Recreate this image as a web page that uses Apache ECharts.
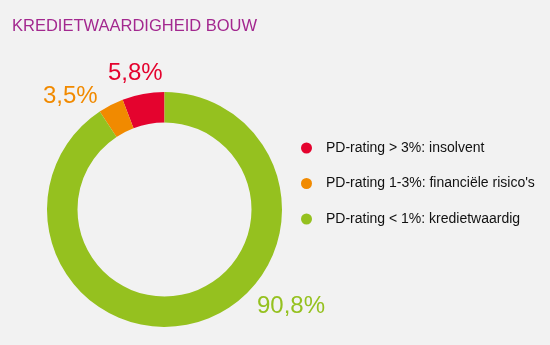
<!DOCTYPE html>
<html>
<head>
<meta charset="utf-8">
<script src="https://cdn.jsdelivr.net/npm/echarts@6/dist/echarts.min.js"></script>
<style>
html,body{margin:0;padding:0;background:#f2f2f2;}
#c{width:550px;height:345px;}
</style>
</head>
<body>
<div id="c"></div>
<script>
const categories = ['PD-rating > 3%: insolvent', "PD-rating 1-3%: financiële risico's", 'PD-rating < 1%: kredietwaardig'];
const values = [5.8, 3.5, 90.8];
const valueLabels = ['5,8%', '3,5%', '90,8%'];
const colors = ['#e4032e', '#f18a00', '#95c11f'];
const titleText = 'KREDIETWAARDIGHEID BOUW';

const labelPos = [
  {x: 108, y: 73, align: 'left'},
  {x: 43, y: 96, align: 'left'},
  {x: 257, y: 306, align: 'left'}
];

const chart = echarts.init(document.getElementById('c'));
chart.setOption({
  backgroundColor: '#f2f2f2',
  animation: false,
  title: {
    text: titleText,
    left: 7,
    top: 13,
    textStyle: {color: '#a3288f', fontSize: 16.5, fontWeight: 'normal', fontFamily: 'Liberation Sans, Arial, sans-serif'}
  },
  legend: {
    orient: 'vertical',
    left: 296,
    top: 136,
    icon: 'circle',
    itemWidth: 11,
    itemHeight: 11,
    itemGap: 21.5,
    data: categories,
    textStyle: {color: '#111111', fontSize: 14, fontFamily: 'Liberation Sans, Arial, sans-serif', padding: [0, 0, 0, 9]}
  },
  series: [{
    type: 'pie',
    center: [164.5, 209.5],
    radius: [87, 117.5],
    startAngle: 90,
    clockwise: false,
    silent: true,
    data: categories.map((n, i) => ({
      name: n,
      value: values[i],
      itemStyle: {color: colors[i]},
      label: {color: colors[i]}
    })),
    label: {
      show: true,
      position: 'outside',
      overflow: 'none',
      width: 100,
      formatter: p => valueLabels[p.dataIndex],
      fontSize: 24,
      fontFamily: 'Liberation Sans, Arial, sans-serif'
    },
    labelLine: {show: false},
    labelLayout: p => ({x: labelPos[p.dataIndex].x, y: labelPos[p.dataIndex].y, align: labelPos[p.dataIndex].align, verticalAlign: 'middle'})
  }]
});
</script>
</body>
</html>
